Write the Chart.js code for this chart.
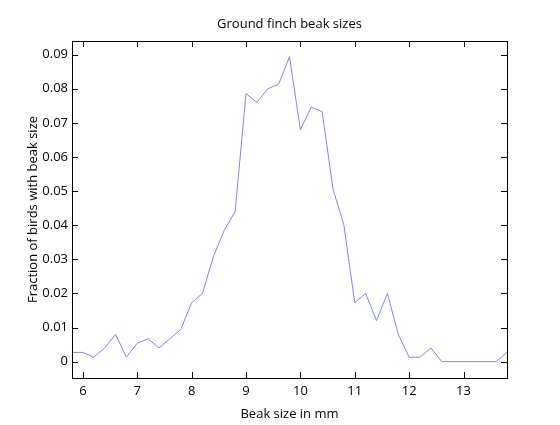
<!DOCTYPE html>
<html>
<head>
<meta charset="utf-8">
<script src="https://cdn.jsdelivr.net/npm/chart.js@4"></script>
<style>
  html, body { margin: 0; padding: 0; background: #fff; }
  #wrap { width: 560px; height: 425px; }
</style>
</head>
<body>
<div id="wrap"><canvas id="beaks"></canvas></div>
<script>
// beak size (mm) and fraction of birds
const beakSizes = [5.8, 6.0, 6.2, 6.4, 6.6, 6.8, 7.0, 7.2, 7.4, 7.6, 7.8,
                   8.0, 8.2, 8.4, 8.6, 8.8, 9.0, 9.2, 9.4, 9.6, 9.8,
                   10.0, 10.2, 10.4, 10.6, 10.8, 11.0, 11.2, 11.4, 11.6, 11.8,
                   12.0, 12.2, 12.4, 12.6, 12.8, 13.0, 13.2, 13.4, 13.6, 13.8];
const fractions = [0.0027, 0.0027, 0.0013, 0.0040, 0.0080, 0.0013, 0.0054, 0.0067, 0.0040, 0.0067, 0.0094,
                   0.0173, 0.0200, 0.0308, 0.0385, 0.0440, 0.0786, 0.0760, 0.0800, 0.0813, 0.0894,
                   0.0680, 0.0746, 0.0733, 0.0506, 0.0400, 0.0173, 0.0200, 0.0120, 0.0200, 0.0080,
                   0.0013, 0.0013, 0.0040, 0, 0, 0, 0, 0, 0, 0.0027];

const xTicks = [6, 7, 8, 9, 10, 11, 12, 13];
const yTicks = [0, 0.01, 0.02, 0.03, 0.04, 0.05, 0.06, 0.07, 0.08, 0.09];
const yTickLabels = ['0', '0.01', '0.02', '0.03', '0.04', '0.05', '0.06', '0.07', '0.08', '0.09'];

const FONT = "'Open Sans', 'Noto Sans', sans-serif";

// gnuplot style frame: box plus inward ticks mirrored on all four sides
const frame = {
  id: 'frame',
  afterDraw(chart) {
    const ctx = chart.ctx;
    const a = chart.chartArea;
    const xs = chart.scales.x, ys = chart.scales.y;
    const len = 6;
    ctx.save();
    ctx.strokeStyle = '#000';
    ctx.lineWidth = 1;
    ctx.beginPath();
    xTicks.forEach(v => {
      const px = Math.round(xs.getPixelForValue(v)) + 0.5;
      ctx.moveTo(px, a.bottom); ctx.lineTo(px, a.bottom - len);
      ctx.moveTo(px, a.top); ctx.lineTo(px, a.top + len);
    });
    yTicks.forEach(v => {
      const py = Math.round(ys.getPixelForValue(v)) + 0.5;
      ctx.moveTo(a.left, py); ctx.lineTo(a.left + len, py);
      ctx.moveTo(a.right, py); ctx.lineTo(a.right - len, py);
    });
    ctx.stroke();
    ctx.strokeRect(Math.round(a.left) + 0.5, Math.round(a.top) + 0.5,
                   Math.round(a.right - a.left), Math.round(a.bottom - a.top));
    ctx.restore();
  }
};

new Chart(document.getElementById('beaks'), {
  type: 'line',
  data: {
    datasets: [{
      data: beakSizes.map((x, i) => ({ x: x, y: fractions[i] })),
      borderColor: 'rgb(128, 128, 255)',
      borderWidth: 1,
      pointRadius: 0,
      tension: 0,
      fill: false
    }]
  },
  options: {
    responsive: true,
    maintainAspectRatio: false,
    animation: false,
    layout: { padding: { top: 0, right: 53, bottom: 0, left: 0 } },
    plugins: {
      legend: { display: false },
      tooltip: { enabled: false },
      title: {
        display: true,
        fullSize: false,
        text: 'Ground finch beak sizes',
        color: '#000',
        font: { family: FONT, size: 13, weight: 'normal' },
        padding: { top: 16, bottom: 9.4 }
      }
    },
    scales: {
      x: {
        type: 'linear',
        min: 5.8,
        max: 13.8,
        afterBuildTicks: s => { s.ticks = xTicks.map(v => ({ value: v })); },
        afterFit: s => { s.height = 47; },
        grid: { display: false, drawTicks: false },
        border: { display: false },
        ticks: { color: '#000', padding: 5, maxRotation: 0, font: { family: FONT, size: 13 } },
        title: {
          display: true,
          text: 'Beak size in mm',
          color: '#000',
          font: { family: FONT, size: 13 },
          padding: { top: 0, bottom: 3 }
        }
      },
      y: {
        min: -0.0048,
        max: 0.094,
        afterBuildTicks: s => { s.ticks = yTicks.map(v => ({ value: v })); },
        afterFit: s => { s.width = 72; },
        grid: { display: false, drawTicks: false },
        border: { display: false },
        ticks: {
          color: '#000', padding: 4, font: { family: FONT, size: 13 },
          callback: (v, i) => yTickLabels[i]
        },
        title: {
          display: true,
          text: 'Fraction of birds with beak size',
          color: '#000',
          font: { family: FONT, size: 13 },
          padding: { top: 25, bottom: 0 }
        }
      }
    }
  },
  plugins: [frame]
});
</script>
</body>
</html>
